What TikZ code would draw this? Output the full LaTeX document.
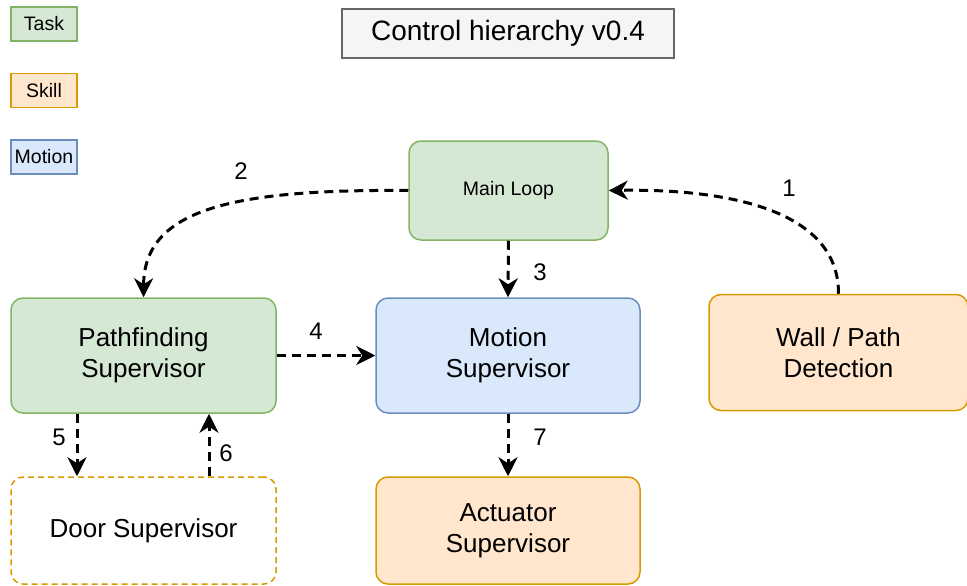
\documentclass[tikz,border=0pt]{standalone}
\usepackage{fontspec}
\setmainfont{Liberation Sans}
\usetikzlibrary{arrows.meta}
\definecolor{gfill}{HTML}{D5E8D4}\definecolor{gline}{HTML}{82B366}
\definecolor{ofill}{HTML}{FFE6CC}\definecolor{oline}{HTML}{D79B00}
\definecolor{bfill}{HTML}{DAE8FC}\definecolor{bline}{HTML}{6C8EBF}
\definecolor{tfill}{HTML}{F5F5F5}\definecolor{tline}{HTML}{666666}
\begin{document}
\begin{tikzpicture}[x=1pt,y=-1pt,
  box/.style={rounded corners=12pt,line width=1.5pt,align=center,inner sep=0pt,
    font=\fontsize{26}{30.5}\selectfont},
  task/.style={box,draw=gline,fill=gfill},
  skill/.style={box,draw=oline,fill=ofill},
  motion/.style={box,draw=bline,fill=bfill},
  legend/.style={draw,line width=1.5pt,inner sep=0pt,minimum width=66pt,minimum height=34pt,
    font=\fontsize{19.5}{22}\selectfont},
  conn/.style={line width=3pt,dash pattern=on 9pt off 6pt,-{Stealth[length=19pt,width=19pt,inset=6pt]}},
  num/.style={font=\fontsize{24}{28}\selectfont,inner sep=0pt}]
\useasboundingbox (0,0) rectangle (967,586);
% legend
\node[legend,draw=gline,fill=gfill] (lt) at (44,24) {Task};
\node[legend,draw=oline,fill=ofill] (ls) at (44,90.5) {Skill};
\node[legend,draw=bline,fill=bfill] (lm) at (44,157) {Motion};
% title
\node[draw=tline,fill=tfill,line width=1.5pt,minimum width=332pt,minimum height=49pt,inner sep=0pt,
  font=\fontsize{28}{32}\selectfont] (title) at (508,33.5) {Control hierarchy v0.4};
% boxes
\node[task,minimum width=199pt,minimum height=99pt,font=\fontsize{19.5}{22}\selectfont] (main) at (508.5,190.5) {Main Loop};
\node[task,minimum width=265pt,minimum height=115pt] (path) at (143.5,355.5) {Pathfinding\\Supervisor};
\node[motion,minimum width=264pt,minimum height=115pt] (mot) at (508,355.5) {Motion\\Supervisor};
\node[skill,minimum width=259pt,minimum height=116pt] (wall) at (838.5,352.5) {Wall / Path\\Detection};
\node[box,draw=oline,fill=white,dashed,dash pattern=on 6pt off 4pt,minimum width=265pt,minimum height=107pt] (door) at (143.5,530.5) {Door Supervisor};
\node[skill,minimum width=264pt,minimum height=107pt] (act) at (508,530.5) {Actuator\\Supervisor};
% connectors
\draw[conn] (wall.north) .. controls (839,200) and (700,189) .. (main.east);
\draw[conn] (main.west) .. controls (230,189) and (144,210) .. (path.north);
\draw[conn] (main.south) -- (mot.north);
\draw[conn] (path.east) -- (mot.west);
\draw[conn] (path.south -| 77,0) -- (door.north -| 77,0);
\draw[conn] (door.north -| 209,0) -- (path.south -| 209,0);
\draw[conn] (mot.south) -- (act.north);
% labels
\node[num] (n1) at (789,188) {1};
\node[num] (n2) at (241,171) {2};
\node[num] (n3) at (540,272) {3};
\node[num] (n4) at (316,331) {4};
\node[num] (n5) at (59,437) {5};
\node[num] (n6) at (226,453) {6};
\node[num] (n7) at (540,437) {7};
\end{tikzpicture}
\end{document}
